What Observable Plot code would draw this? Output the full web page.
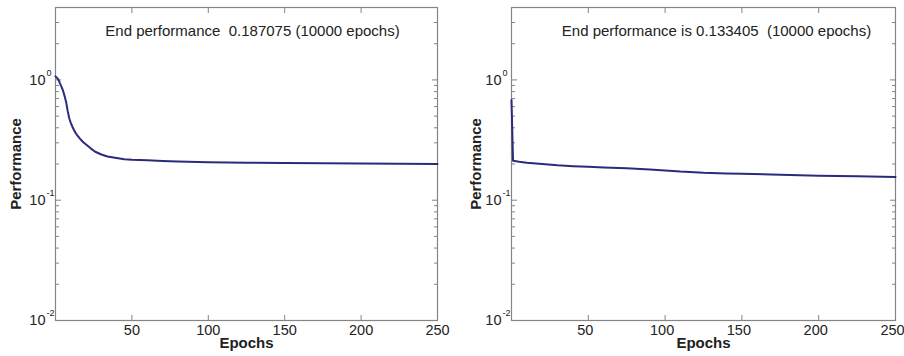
<!DOCTYPE html>
<html>
<head>
<meta charset="utf-8">
<script src="https://cdn.jsdelivr.net/npm/d3@7"></script>
<script src="https://cdn.jsdelivr.net/npm/@observablehq/plot@0.6"></script>
<style>
  html, body { margin: 0; padding: 0; background: #fff; }
  #wrap { display: flex; width: 904px; height: 356px; }
  svg { font-family: "Liberation Sans", Arial, sans-serif; }
</style>
</head>
<body>
<div id="wrap"></div>
<script>
// ---- data ----
const epochsA = [0, 1, 2, 3, 4, 5, 6, 7, 8, 9, 10, 11, 12, 13, 14, 16, 18, 20, 23, 26, 30, 34, 40, 45, 50, 60, 70, 80, 100, 125, 150, 175, 200, 225, 250];
const perfA   = [1.07, 1.04, 1.0, 0.93, 0.87, 0.81, 0.73, 0.65, 0.55, 0.48, 0.44, 0.41, 0.385, 0.365, 0.35, 0.325, 0.305, 0.29, 0.27, 0.253, 0.24, 0.231, 0.224, 0.219, 0.217, 0.215, 0.212, 0.21, 0.207, 0.205, 0.204, 0.203, 0.202, 0.201, 0.2];

const epochsB = [0, 1, 5, 10, 20, 30, 40, 50, 60, 75, 90, 100, 110, 125, 140, 150, 175, 200, 225, 250];
const perfB   = [0.68, 0.213, 0.209, 0.205, 0.2, 0.195, 0.192, 0.19, 0.187, 0.184, 0.18, 0.177, 0.173, 0.169, 0.167, 0.166, 0.163, 0.16, 0.158, 0.156];

const titleA = "End performance  0.187075 (10000 epochs)";
const titleB = "End performance is 0.133405  (10000 epochs)";

const xTicks = [50, 100, 150, 200, 250];
const yMajor = [0.01, 0.1, 1];
const yExponents = ["-2", "-1", "0"];
const yMinor = [0.02, 0.03, 0.04, 0.05, 0.06, 0.07, 0.08, 0.09, 0.2, 0.3, 0.4, 0.5, 0.6, 0.7, 0.8, 0.9, 2, 3, 4];
const xLabel = "Epochs";
const yLabel = "Performance";

// ---- chart ----
const frameColor = "#858585";
const textColor = "#222";

function panel({epochs, perf, title, marginLeft, marginRight, titleDx, yLabelDx, xTickDx}) {
  const rows = epochs.map((e, i) => ({epoch: e, perf: perf[i]}));
  return Plot.plot({
    width: 452,
    height: 356,
    marginLeft, marginRight,
    marginTop: 7,
    marginBottom: 36,
    style: {fontFamily: '"Liberation Sans", Arial, sans-serif', color: textColor, background: "white"},
    x: {type: "linear", domain: [0, 250]},
    y: {type: "log", domain: [0.01, 4]},
    marks: [
      // inner ticks
      Plot.axisX({anchor: "bottom", ticks: xTicks, tickSize: -5, tickFormat: () => "", stroke: frameColor, label: null}),
      Plot.axisX({anchor: "top", ticks: xTicks, tickSize: -5, tickFormat: () => "", stroke: frameColor, label: null}),
      Plot.axisY({anchor: "left", ticks: yMajor, tickSize: -6, tickFormat: () => "", stroke: frameColor, label: null}),
      Plot.axisY({anchor: "right", ticks: yMajor, tickSize: -6, tickFormat: () => "", stroke: frameColor, label: null}),
      Plot.axisY({anchor: "left", ticks: yMinor, tickSize: -4, tickFormat: () => "", stroke: frameColor, label: null}),
      Plot.axisY({anchor: "right", ticks: yMinor, tickSize: -4, tickFormat: () => "", stroke: frameColor, label: null}),
      // tick labels
      Plot.text(xTicks, {x: d => d, text: d => String(d), frameAnchor: "bottom", lineAnchor: "top", dy: 4, dx: xTickDx, fontSize: 14.5, fill: textColor}),
      Plot.axisY({anchor: "left", ticks: yMajor, tickSize: 0, tickPadding: 10, fontSize: 14.5, tickFormat: () => "10", label: null, fill: textColor}),
      Plot.text(yMajor, {y: d => d, frameAnchor: "left", text: (d, i) => yExponents[i], textAnchor: "start", dx: -9, dy: -7, fontSize: 9, fill: textColor}),
      // axis titles
      Plot.text([xLabel], {frameAnchor: "bottom", text: d => d, dy: 27, fontSize: 15, fontWeight: "bold", fill: textColor}),
      Plot.text([yLabel], {frameAnchor: "left", text: d => d, rotate: -90, textAnchor: "middle", dx: yLabelDx, fontSize: 15, fontWeight: "bold", fill: textColor}),
      // frame
      Plot.frame({stroke: frameColor, strokeWidth: 1.2}),
      // data
      Plot.line(rows, {x: "epoch", y: "perf", stroke: "#2b2b7c", strokeWidth: 2}),
      // annotation
      Plot.text([title], {frameAnchor: "top", text: d => d, dy: 18, dx: titleDx, fontSize: 15, fill: textColor})
    ]
  });
}

const wrap = document.getElementById("wrap");
wrap.appendChild(panel({epochs: epochsA, perf: perfA, title: titleA, marginLeft: 55, marginRight: 15, titleDx: 6, yLabelDx: -39, xTickDx: 0}));
wrap.appendChild(panel({epochs: epochsB, perf: perfB, title: titleB, marginLeft: 59, marginRight: 9, titleDx: 13, yLabelDx: -35, xTickDx: -3}));
</script>
</body>
</html>
